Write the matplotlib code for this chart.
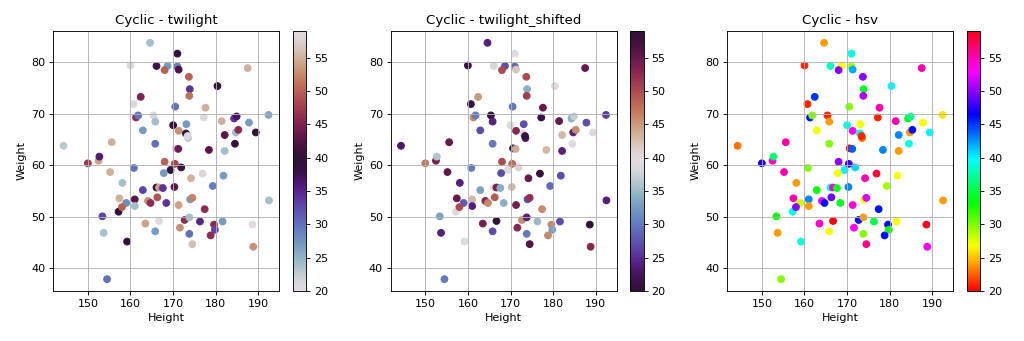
import numpy as np
import matplotlib
matplotlib.use("Agg")
import matplotlib.pyplot as plt

# height (cm), weight (kg), age -> colour
height = [164.6, 160.0, 162.4, 160.7, 161.3, 161.8, 162.9, 165.4, 165.8, 144.3,
          155.6, 150.0, 152.5, 152.7, 155.2, 160.8, 158.1, 162.9, 157.4, 161.0,
          157.2, 159.0, 158.0, 161.0, 153.4, 163.5, 153.7, 159.2, 154.5, 165.8,
          168.0, 170.4, 169.4, 171.9, 167.8, 174.2, 176.9, 181.8, 179.3, 166.1,
          166.7, 167.6, 170.3, 164.1, 164.7, 166.3, 168.4, 171.3, 174.0, 174.5,
          177.4, 166.7, 172.7, 173.8, 171.6, 176.3, 173.8, 174.5, 179.6, 179.8,
          178.8, 181.6, 188.6, 188.8, 192.5, 171.0, 166.1, 168.7, 168.0, 171.0,
          171.3, 173.7, 173.9, 173.8, 180.4, 187.5, 170.5, 177.6, 170.0, 173.1,
          177.2, 181.4, 184.3, 184.9, 187.8, 192.4, 171.3, 173.0, 173.5, 173.4,
          184.7, 185.3, 182.1, 189.4, 184.5, 165.8, 170.6, 171.2, 178.4, 182.1]
weight = [83.8, 79.4, 73.3, 71.9, 69.3, 69.7, 66.8, 69.7, 68.5, 63.8,
          64.5, 60.4, 60.9, 61.7, 58.7, 59.5, 56.6, 55.2, 53.6, 53.4,
          51.0, 52.7, 51.9, 52.1, 50.1, 48.7, 46.9, 45.2, 37.9, 47.2,
          60.7, 60.3, 59.1, 59.6, 58.5, 57.5, 58.4, 58.0, 56.0, 55.7,
          55.7, 55.6, 55.8, 53.1, 52.7, 53.8, 52.7, 52.3, 53.4, 53.7,
          51.5, 49.2, 49.4, 49.9, 47.9, 49.1, 46.7, 44.7, 48.5, 47.5,
          46.4, 49.1, 48.5, 44.2, 53.2, 81.7, 79.3, 79.3, 78.5, 79.2,
          78.6, 77.2, 74.8, 73.5, 75.4, 78.9, 71.4, 71.2, 67.8, 68.0,
          69.3, 68.6, 69.1, 69.5, 68.3, 69.8, 66.7, 66.2, 65.3, 65.7,
          66.4, 66.9, 65.9, 66.4, 64.2, 64.2, 63.3, 63.2, 63.0, 62.8]
age = [24, 21, 45, 21, 46, 30, 27, 21, 24, 23,
       55, 47, 54, 36, 55, 30, 24, 33, 55, 43,
       39, 28, 50, 24, 33, 54, 24, 39, 30, 27,
       50, 48, 40, 41, 27, 55, 58, 27, 29, 39,
       54, 34, 43, 53, 46, 49, 34, 54, 27, 52,
       46, 20, 46, 24, 53, 35, 30, 56, 46, 33,
       46, 27, 59, 53, 24, 39, 38, 27, 50, 29,
       42, 50, 34, 51, 40, 55, 30, 55, 39, 27,
       21, 55, 34, 37, 27, 26, 53, 39, 23, 21,
       24, 46, 43, 40, 39, 30, 20, 44, 43, 24]

cmaps = ["twilight", "twilight_shifted", "hsv"]

fig = plt.figure(figsize=(12.8, 4.2625), dpi=80)
lefts = [53.3, 390.7, 727.3]
W, H = 1024.0, 341.0
for i, cm in enumerate(cmaps):
    x0 = lefts[i]
    ax = fig.add_axes([x0 / W, 1 - 291 / H, 226 / W, 260 / H])
    cax = fig.add_axes([(x0 + 239.5) / W, 1 - 291 / H, 13.5 / W, 260 / H])
    sc = ax.scatter(height, weight, c=age, cmap=cm)
    fig.colorbar(sc, cax=cax)
    ax.set_title("Cyclic - " + cm, fontsize=12)
    ax.set_xlabel("Height")
    ax.set_ylabel("Weight")
    ax.grid(True)

plt.savefig("out.png", dpi=80)
